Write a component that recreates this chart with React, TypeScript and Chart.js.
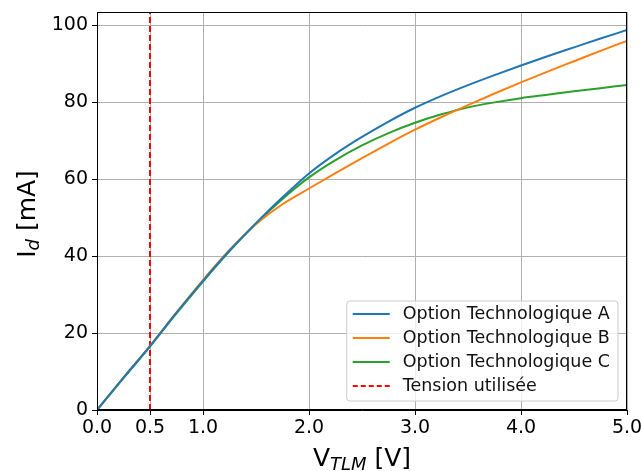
import React, { useEffect, useRef } from "react";
import { Chart, registerables } from "chart.js";

Chart.register(...registerables);

const voltages = [0, 0.25, 0.5, 0.75, 1.0, 1.25, 1.5, 1.75, 2.0, 2.25, 2.5, 2.75, 3.0, 3.25, 3.5, 3.75, 4.0, 4.25, 4.5, 4.75, 5.0];
const currentA = [0, 8.4, 16.6, 25.3, 33.6, 41.4, 48.6, 55.3, 61.5, 66.6, 71.0, 75.0, 78.6, 81.7, 84.5, 87.1, 89.6, 92.0, 94.3, 96.6, 98.8];
const currentB = [0, 8.4, 16.7, 25.4, 33.8, 41.6, 48.3, 53.5, 57.6, 61.6, 65.5, 69.3, 72.9, 76.2, 79.3, 82.3, 85.2, 88.0, 90.7, 93.4, 96.0];
const currentC = [0, 8.3, 16.5, 25.1, 33.4, 41.3, 48.5, 54.9, 60.5, 65.0, 68.8, 72.0, 74.7, 76.9, 78.7, 80.0, 81.1, 82.0, 82.9, 83.7, 84.5];

const seriesLabels = ["Option Technologique A", "Option Technologique B", "Option Technologique C"];
const seriesColors = ["#1f77b4", "#ff7f0e", "#2ca02c"];
const tensionLabel = "Tension utilisée";
const tensionUsed = 0.5;

const xTicks = [0, 0.5, 1, 2, 3, 4, 5];
const yTicks = [0, 20, 40, 60, 80, 100];
const xMin = 0;
const xMax = 5;
const yMin = 0;
const yMax = 103.5;

const FONT = '"DejaVu Sans", sans-serif';

type Part = { text: string; size: number; italic?: boolean; dy?: number };

function drawRich(ctx: CanvasRenderingContext2D, parts: Part[], cx: number, cy: number, rotate: boolean) {
  ctx.save();
  ctx.translate(cx, cy);
  if (rotate) ctx.rotate(-Math.PI / 2);
  ctx.fillStyle = "#000";
  ctx.textBaseline = "alphabetic";
  ctx.textAlign = "left";
  const widths = parts.map((p) => {
    ctx.font = `${p.italic ? "italic " : ""}${p.size}px ${FONT}`;
    return ctx.measureText(p.text).width;
  });
  const total = widths.reduce((a, b) => a + b, 0);
  let x = -total / 2;
  parts.forEach((p, i) => {
    ctx.font = `${p.italic ? "italic " : ""}${p.size}px ${FONT}`;
    ctx.fillText(p.text, x, p.dy || 0);
    x += widths[i];
  });
  ctx.restore();
}

const decorPlugin = {
  id: "decor",
  afterDraw(chart: any) {
    const ctx: CanvasRenderingContext2D = chart.ctx;
    const a = chart.chartArea;
    // frame
    ctx.save();
    ctx.strokeStyle = "#000";
    ctx.lineWidth = 1;
    ctx.strokeRect(Math.round(a.left) + 0.5, Math.round(a.top) + 0.5, Math.round(a.right - a.left) - 1, Math.round(a.bottom - a.top) - 1);
    ctx.restore();

    // axis titles
    drawRich(
      ctx,
      [
        { text: "V", size: 25 },
        { text: "TLM", size: 18, italic: true, dy: 4 },
        { text: " [V]", size: 25 },
      ],
      (a.left + a.right) / 2,
      466,
      false
    );
    drawRich(
      ctx,
      [
        { text: "I", size: 25 },
        { text: "d", size: 18, italic: true, dy: 4 },
        { text: " [mA]", size: 25 },
      ],
      35,
      (a.top + a.bottom) / 2 + 3,
      true
    );

    // legend
    const entries = [
      ...seriesLabels.map((l, i) => ({ label: l, color: seriesColors[i], dash: [] as number[] })),
      { label: tensionLabel, color: "#ff0000", dash: [5, 3] },
    ];
    ctx.save();
    ctx.font = `17.5px ${FONT}`;
    const textW = Math.max(...entries.map((e) => ctx.measureText(e.label).width));
    const boxRight = a.right - 9;
    const boxBottom = a.bottom - 9;
    const rowH = 24;
    const boxH = entries.length * rowH + 4;
    const boxW = 56 + textW + 8;
    const boxLeft = boxRight - boxW;
    const boxTop = boxBottom - boxH;
    ctx.beginPath();
    const r = 3;
    ctx.moveTo(boxLeft + r, boxTop);
    ctx.arcTo(boxRight, boxTop, boxRight, boxBottom, r);
    ctx.arcTo(boxRight, boxBottom, boxLeft, boxBottom, r);
    ctx.arcTo(boxLeft, boxBottom, boxLeft, boxTop, r);
    ctx.arcTo(boxLeft, boxTop, boxRight, boxTop, r);
    ctx.closePath();
    ctx.fillStyle = "rgba(255,255,255,0.8)";
    ctx.fill();
    ctx.strokeStyle = "#cccccc";
    ctx.lineWidth = 1;
    ctx.stroke();
    entries.forEach((e, i) => {
      const cy = boxTop + 13 + i * rowH;
      ctx.beginPath();
      ctx.setLineDash(e.dash);
      ctx.strokeStyle = e.color;
      ctx.lineWidth = 2;
      ctx.moveTo(boxLeft + 6, cy);
      ctx.lineTo(boxLeft + 43, cy);
      ctx.stroke();
      ctx.setLineDash([]);
      ctx.fillStyle = "#111";
      ctx.textBaseline = "middle";
      ctx.textAlign = "left";
      ctx.fillText(e.label, boxLeft + 56, cy);
    });
    ctx.restore();
  },
};

export default function App() {
  const ref = useRef<HTMLCanvasElement | null>(null);
  useEffect(() => {
    if (!ref.current) return;
    const mk = (ys: number[]) => voltages.map((v, i) => ({ x: v, y: ys[i] }));
    const series = [currentA, currentB, currentC];
    const chart = new Chart(ref.current, {
      type: "line",
      data: {
        datasets: [
          ...series.map((s, i) => ({
            label: seriesLabels[i],
            data: mk(s),
            borderColor: seriesColors[i],
            backgroundColor: seriesColors[i],
            borderWidth: 2,
            pointRadius: 0,
            cubicInterpolationMode: "monotone" as const,
            fill: false,
          })),
          {
            label: tensionLabel,
            data: [
              { x: tensionUsed, y: yMin },
              { x: tensionUsed, y: yMax },
            ],
            borderColor: "#ff0000",
            borderWidth: 2,
            borderDash: [6, 3],
            pointRadius: 0,
            fill: false,
          },
        ],
      },
      options: {
        responsive: false,
        animation: false,
        layout: { padding: { top: 12, right: 14, left: 0, bottom: 0 } },
        plugins: { legend: { display: false }, tooltip: { enabled: false } },
        scales: {
          x: {
            type: "linear",
            min: xMin,
            max: xMax,
            afterBuildTicks: (s: any) => {
              s.ticks = xTicks.map((v) => ({ value: v }));
            },
            afterFit: (s: any) => {
              s.height = 61;
              s.paddingLeft = 0;
              s.paddingRight = 0;
            },
            ticks: {
              font: { family: FONT, size: 19 },
              color: "#000",
              padding: 2,
              maxRotation: 0,
              autoSkip: false,
              callback: (v: any) => Number(v).toFixed(1),
            },
            grid: { color: "#b0b0b0", lineWidth: 1, tickLength: 5, tickColor: "#000" },
            border: { display: true, color: "#000", width: 1 },
          },
          y: {
            type: "linear",
            min: yMin,
            max: yMax,
            afterBuildTicks: (s: any) => {
              s.ticks = yTicks.map((v) => ({ value: v }));
            },
            afterFit: (s: any) => {
              s.width = 97;
              s.paddingTop = 0;
              s.paddingBottom = 0;
            },
            ticks: {
              font: { family: FONT, size: 19 },
              color: "#000",
              padding: 4,
              autoSkip: false,
              callback: (v: any) => String(v),
            },
            grid: { color: "#b0b0b0", lineWidth: 1, tickLength: 5, tickColor: "#000" },
            border: { display: true, color: "#000", width: 1 },
          },
        },
      },
      plugins: [decorPlugin],
    });
    return () => chart.destroy();
  }, []);
  return (
    <div style={{ position: "fixed", left: 0, top: 0, width: 641, height: 471, background: "#fff" }}>
      <canvas ref={ref} width={641} height={471} style={{ width: 641, height: 471 }} />
    </div>
  );
}
